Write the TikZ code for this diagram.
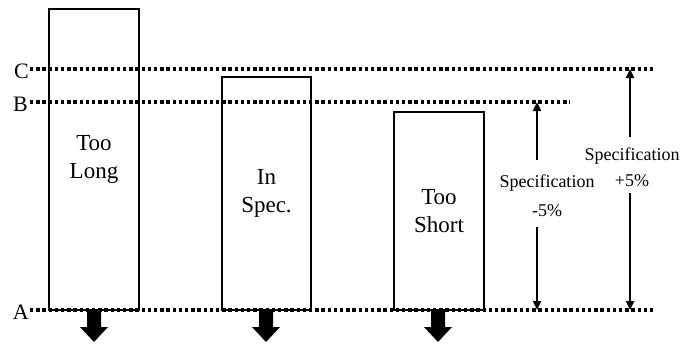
\documentclass[tikz,border=0pt]{standalone}
\usepackage{fontspec}
\setmainfont{Liberation Serif}
\usetikzlibrary{arrows.meta}

\tikzset{
  bar/.style={draw, line width=1.3pt, inner sep=0pt, align=center,
              font=\fontsize{23}{28}\selectfont},
  level/.style={line width=3.3pt, dash pattern=on 3.3pt off 2.9pt},
  levellabel/.style={anchor=base east, inner sep=0pt,
              font=\fontsize{22}{26}\selectfont},
  spec/.style={align=center, inner sep=0pt},
  specarrow/.style={line width=2.4pt, -{Triangle[length=9pt,width=8pt]}},
  pics/outarrow/.style={code={
    \fill (-7,0) -- (7,0) -- (7,17) -- (14,17) -- (0,32) -- (-14,17) -- (-7,17) -- cycle;
  }}
}

\begin{document}
\begin{tikzpicture}[x=1pt,y=-1pt]
  \useasboundingbox (0,0) rectangle (683,343);

  % bars
  \node[bar, minimum width=90, minimum height=301] (long)  at (94,159.5)  {Too\\Long};
  \node[bar, minimum width=89, minimum height=233] (inspec) at (266.5,193.5) {In\\Spec.};
  \node[bar, minimum width=90, minimum height=198] (short) at (439,211)  {Too\\Short};

  % level line end points
  \coordinate (cL) at (30,69);   \coordinate (cR) at (655,69);
  \coordinate (bL) at (30,102);  \coordinate (bR) at (570,102);
  \coordinate (aL) at (30,310);  \coordinate (aR) at (655,310);

  \draw[level] (cL) -- (cR);
  \draw[level] (bL) -- (bR);
  \draw[level] (aL) -- (aR);

  \node[levellabel] (lc) at (29,78)  {C};
  \node[levellabel] (lb) at (28,111) {B};
  \node[levellabel] (la) at (29,319) {A};

  % tolerance labels and arrows
  \node[spec, font=\fontsize{18}{29}\selectfont] (minus) at (547,196) {Specification\\-5\%};
  \node[spec, font=\fontsize{18}{26}\selectfont] (plus)  at (632,167) {Specification\\+5\%};

  \coordinate (m1) at (537,160);  \coordinate (m2) at (537,227);
  \coordinate (p1) at (630,137);  \coordinate (p2) at (630,193);
  \draw[specarrow] (m1) -- (537,102);
  \draw[specarrow] (m2) -- (537,310);
  \draw[specarrow] (p1) -- (630,69);
  \draw[specarrow] (p2) -- (630,310);

  % outflow arrows under the bars
  \pic at (94,310)  {outarrow};
  \pic at (266,310) {outarrow};
  \pic at (438,310) {outarrow};
\end{tikzpicture}
\end{document}
